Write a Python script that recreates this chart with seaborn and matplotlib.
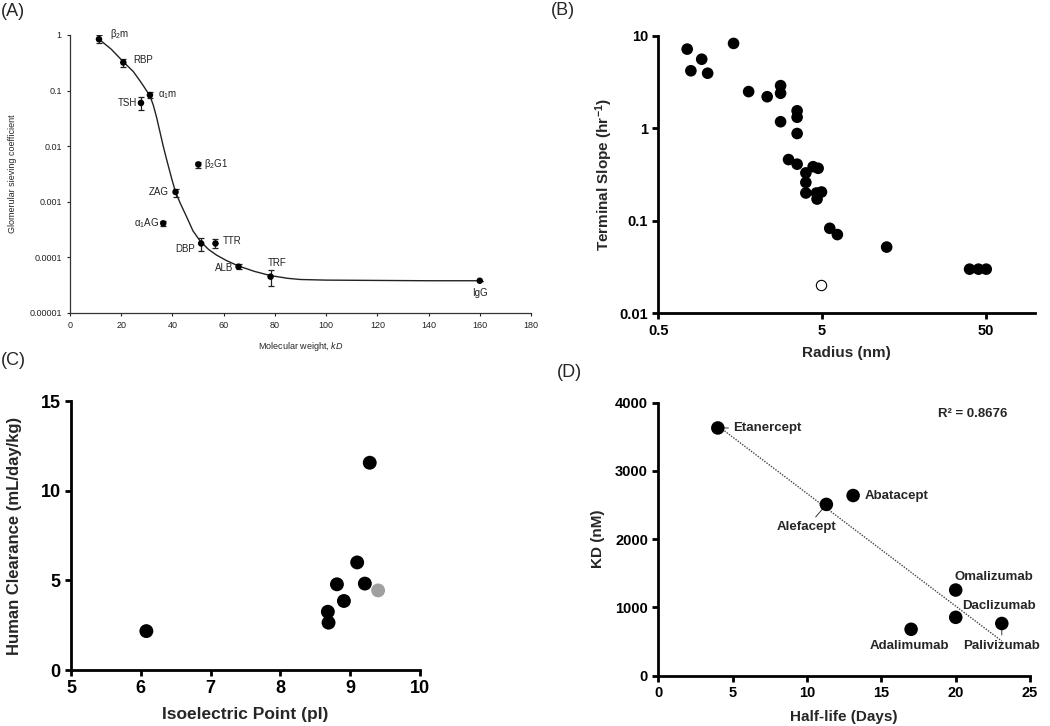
import numpy as np
import pandas as pd
import matplotlib
matplotlib.use('Agg')
import matplotlib.pyplot as plt
import matplotlib.ticker as mticker
import seaborn as sns

# (A) glomerular sieving coefficient vs molecular weight
a_names = ['β$_2$m', 'RBP', 'α$_1$m', 'TSH', 'β$_2$G1', 'ZAG', 'α$_1$AG',
           'DBP', 'TTR', 'ALB', 'TRF', 'IgG']
a_mw = [11.3, 20.8, 31.2, 27.7, 50.1, 41.2, 36.4, 51.2, 56.8, 65.8, 78.3, 160]
a_sc = [0.84, 0.32, 0.083, 0.06, 0.0047, 0.0015, 0.00041, 0.000178, 0.000178,
        0.000068, 0.000045, 0.000038]
a_hi = [1.0, 0.375, 0.093, 0.077, 0.0053, 0.0017, 0.00046, 0.000226, 0.000214,
        0.000076, 0.000059, 0.000038]
a_lo = [0.71, 0.27, 0.075, 0.045, 0.0040, 0.00124, 0.00036, 0.000132, 0.000146,
        0.000063, 0.00003, 0.000038]
# fitted curve
curve_mw = [11.3, 16, 20.8, 24.7, 27.3, 29, 31.2, 32.5, 33.8, 35, 36.4, 37.7, 39.7,
            41.2, 43, 45.5, 48, 50.7, 54, 57.2, 61, 65.8, 72, 78.3, 85, 90, 100,
            120, 140, 160]
curve_sc = [0.84, 0.56, 0.33, 0.22, 0.15, 0.115, 0.08, 0.055, 0.033, 0.019, 0.0100,
            0.0058, 0.0026, 0.0015, 0.00095, 0.00054, 0.0003, 0.0002, 0.00014,
            0.00011, 0.000088, 0.00007, 0.000056, 0.000047, 0.000042, 0.00004,
            0.000039, 0.0000385, 0.000038, 0.000038]

# (B) terminal slope vs radius
b_radius = [0.75, 0.92, 0.79, 1.0, 1.44, 1.78, 2.31, 2.79, 2.79, 2.79, 3.52, 3.52,
            3.52, 3.12, 3.52, 4.41, 4.73, 3.98, 3.98, 3.98, 4.62, 4.96, 4.66,
            5.57, 6.2, 12.4, 39.8, 45.1, 50.3]
b_slope = [7.2, 5.6, 4.2, 3.95, 8.3, 2.5, 2.2, 2.9, 2.4, 1.18, 1.55, 1.32, 0.88,
           0.46, 0.41, 0.385, 0.37, 0.33, 0.26, 0.2, 0.2, 0.205, 0.172,
           0.083, 0.071, 0.052, 0.03, 0.03, 0.03]
b_open_radius = [4.91]
b_open_slope = [0.02]

# (C) human clearance vs isoelectric point
c_pi = [6.08, 8.68, 8.69, 8.81, 8.91, 9.10, 9.21, 9.28]
c_cl = [2.17, 3.25, 2.64, 4.78, 3.85, 6.0, 4.82, 11.56]
c_grey_pi = [9.40]
c_grey_cl = [4.44]

# (D) KD vs half-life
d_names = ['Etanercept', 'Alefacept', 'Abatacept', 'Omalizumab', 'Daclizumab',
           'Adalimumab', 'Palivizumab']
d_half = [4.0, 11.3, 13.1, 20.0, 20.0, 17.0, 23.1]
d_kd = [3630, 2510, 2640, 1255, 855, 680, 765]

sns.set_style('ticks')
plt.rcParams['font.family'] = ['Liberation Sans', 'DejaVu Sans']
plt.rcParams['mathtext.fontset'] = 'custom'
plt.rcParams['mathtext.rm'] = 'Liberation Sans'
plt.rcParams['mathtext.it'] = 'Liberation Sans:italic'
plt.rcParams['mathtext.bf'] = 'Liberation Sans:bold'

fig = plt.figure(figsize=(10.5, 7.26), dpi=100)
axA = fig.add_axes([0.0667, 0.5689, 0.439, 0.3829])
axB = fig.add_axes([0.627, 0.5685, 0.3588, 0.382])
axC = fig.add_axes([0.0676, 0.0771, 0.3324, 0.3705])
axD = fig.add_axes([0.627, 0.0693, 0.354, 0.376])

# ---- A
sns.lineplot(x=curve_mw, y=curve_sc, sort=False, color='#222222', lw=1.0, ax=axA)
sc = np.array(a_sc)
yerr = [sc - np.array(a_lo), np.array(a_hi) - sc]
axA.errorbar(a_mw, a_sc, yerr=yerr, fmt='none', ecolor='#222222', elinewidth=0.9,
             capsize=2.5, capthick=0.9)
sns.scatterplot(x=a_mw, y=a_sc, color='black', s=22, edgecolor='none', ax=axA, zorder=5)
axA.set_yscale('log')
axA.set_xlim(0, 180)
axA.set_ylim(1e-5, 1)
axA.xaxis.set_major_locator(mticker.MultipleLocator(20))
axA.yaxis.set_major_locator(mticker.FixedLocator([1e-5, 1e-4, 1e-3, 1e-2, 0.1, 1]))
axA.yaxis.set_minor_locator(mticker.NullLocator())
axA.set_yticklabels(['0.00001', '0.0001', '0.001', '0.01', '0.1', '1'])
axA.tick_params(labelsize=6.5, length=2.5, width=0.8, colors='#222222')
for s in ['left', 'bottom']:
    axA.spines[s].set_linewidth(0.9)
    axA.spines[s].set_color('#333333')
sns.despine(ax=axA)
axA.set_xlabel('Molecular weight, $\\mathit{kD}$', fontsize=6.5, labelpad=7)
axA.set_ylabel('Glomerular sieving coefficient', fontsize=6.5, labelpad=9)
a_offsets = [(8, 4, 'left'), (7.5, 2, 'left'), (6, 0, 'left'), (-3, 0, 'right'),
             (4, 0, 'left'), (-5, 0, 'right'), (-3, 0, 'right'), (-4.5, -4.3, 'right'),
             (5.5, 1.5, 'left'), (-4, -1, 'right'), (4.5, 10, 'center'),
             (0, -8.6, 'center')]
for name, x, y, (dx, dy, ha) in zip(a_names, a_mw, a_sc, a_offsets):
    axA.annotate(name, xy=(x, y), xytext=(dx, dy), textcoords='offset points',
                 ha=ha, va='center', fontsize=7, color='#222222')

# ---- B
sns.scatterplot(x=b_radius, y=b_slope, color='black', s=70, edgecolor='none', ax=axB)
sns.scatterplot(x=b_open_radius, y=b_open_slope, facecolor='white', edgecolor='black',
                linewidth=0.8, s=55, ax=axB)
axB.set_xscale('log')
axB.set_yscale('log')
axB.set_xlim(0.5, 100)
axB.set_ylim(0.01, 10)
axB.xaxis.set_major_locator(mticker.FixedLocator([0.5, 5, 50]))
axB.xaxis.set_minor_locator(mticker.NullLocator())
axB.set_xticklabels(['0.5', '5', '50'])
axB.yaxis.set_major_locator(mticker.FixedLocator([0.01, 0.1, 1, 10]))
axB.yaxis.set_minor_locator(mticker.NullLocator())
axB.set_yticklabels(['0.01', '0.1', '1', '10'])
axB.set_xlabel('Radius (nm)', fontsize=11, fontweight='bold', labelpad=6)
axB.set_ylabel('Terminal Slope (hr$^{\\mathbf{-1}}$)', fontsize=11, fontweight='bold',
               labelpad=3)

# ---- C
sns.scatterplot(x=c_pi, y=c_cl, color='black', s=100, edgecolor='none', ax=axC)
sns.scatterplot(x=c_grey_pi, y=c_grey_cl, color='#a0a0a0', s=100, edgecolor='none', ax=axC)
axC.set_xlim(5, 10)
axC.set_ylim(0, 15)
axC.xaxis.set_major_locator(mticker.MultipleLocator(1))
axC.yaxis.set_major_locator(mticker.FixedLocator([0, 5, 10, 15]))
axC.set_xlabel('Isoelectric Point (pI)', fontsize=12.5, fontweight='bold', labelpad=7)
axC.set_ylabel('Human Clearance (mL/day/kg)', fontsize=12, fontweight='bold', labelpad=13)

# ---- D
sns.regplot(x=d_half, y=d_kd, scatter=False, ci=None, truncate=True, ax=axD,
            line_kws=dict(color='#444444', lw=1.0, ls=(0, (1, 1))))
sns.scatterplot(x=d_half, y=d_kd, color='black', s=95, edgecolor='none', ax=axD, zorder=5)
axD.set_xlim(0, 25)
axD.set_ylim(0, 4000)
axD.xaxis.set_major_locator(mticker.MultipleLocator(5))
axD.yaxis.set_major_locator(mticker.MultipleLocator(1000))
axD.set_xlabel('Half-life (Days)', fontsize=11, fontweight='bold', labelpad=7)
axD.set_ylabel('KD (nM)', fontsize=11, fontweight='bold', labelpad=7)
d_offsets = [(11, 0, 'left', True), (-14, -16.5, 'center', True), (8.4, 0, 'left', False),
             (-1, 9.4, 'left', False), (4.3, 8, 'left', False),
             (-1, -12, 'center', False), (0, -16, 'center', True)]
for name, x, y, (dx, dy, ha, lead) in zip(d_names, d_half, d_kd, d_offsets):
    arrow = dict(arrowstyle='-', lw=0.7, color='#333333', shrinkA=1, shrinkB=0) if lead else None
    axD.annotate(name, xy=(x, y), xytext=(dx, dy), textcoords='offset points',
                 ha=ha, va='center', fontsize=9.5, fontweight='bold', arrowprops=arrow)
axD.text(0.7525, 0.9586, 'R² = 0.8676', transform=axD.transAxes, ha='left', va='center',
         fontsize=9.5, fontweight='bold')

for ax, ts in [(axB, 10.5), (axC, 13), (axD, 10.5)]:
    sns.despine(ax=ax)
    for s in ['left', 'bottom']:
        ax.spines[s].set_linewidth(2.0)
        ax.spines[s].set_color('black')
    ax.tick_params(labelsize=ts, length=4, width=2, colors='black')
    for lab in ax.get_xticklabels() + ax.get_yticklabels():
        lab.set_fontweight('bold')

for txt, x, y in [('(A)', 0.001, 0.984), ('(B)', 0.525, 0.986),
                  ('(C)', 0.001, 0.504), ('(D)', 0.530, 0.487)]:
    fig.text(x, y, txt, fontsize=13, ha='left', va='center')

fig.savefig('out.png', dpi=100)
